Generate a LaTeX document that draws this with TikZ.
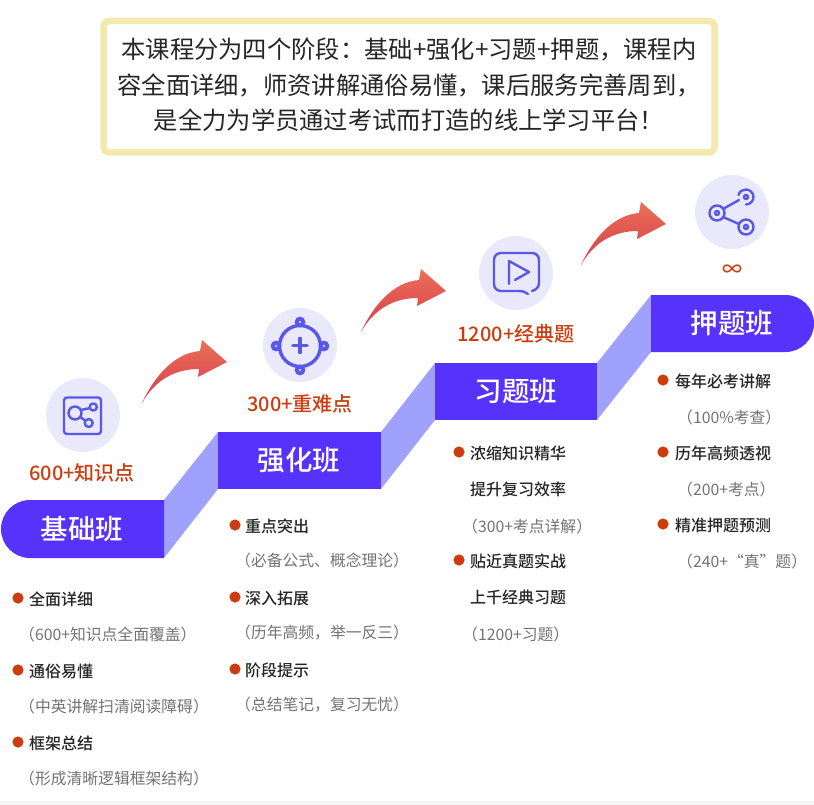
\documentclass[tikz,border=0pt]{standalone}
\usepackage{fontspec}
\setmainfont{Noto Sans CJK SC}
\newfontfamily\medfont{Noto Sans CJK SC Medium}
\definecolor{barblue}{HTML}{5533FB}
\definecolor{foldblue}{HTML}{A0A0FD}
\definecolor{iconblue}{HTML}{5A58E6}
\definecolor{discblue}{HTML}{E9E9FB}
\definecolor{numred}{HTML}{CB3C0E}
\definecolor{noteframe}{HTML}{F3E8AE}
\definecolor{curvestart}{HTML}{EA7058}
\definecolor{curveend}{HTML}{D83A4C}
\tikzset{
  x=1pt,
  y=-1pt,
}
\tikzstyle{every node}=[inner sep=0pt]
\tikzstyle{note}=[font=\fontsize{24.3}{24.3}\selectfont,text=black!85,text height=21.4pt,text depth=2.9pt]
\tikzstyle{bar}=[fill=barblue]
\tikzstyle{fold}=[fill=foldblue]
\tikzstyle{bartext}=[font=\medfont\fontsize{27.5}{28}\selectfont,text=white,text height=24.2pt,text depth=3.3pt]
\tikzstyle{count}=[font=\medfont\fontsize{20}{20}\selectfont,text=numred,text height=17.6pt,text depth=2.4pt]
\tikzstyle{disc}=[fill=discblue]
\tikzstyle{icon}=[draw=iconblue,line width=2.4pt,line cap=round,line join=round]
\tikzstyle{curve}=[left color=curvestart,right color=curveend,shading angle=0]
\tikzstyle{dot}=[fill=numred]
\tikzstyle{head}=[anchor=west,font=\medfont\fontsize{16}{16}\selectfont,text=black!85,text height=14pt,text depth=2pt]
\tikzstyle{sub}=[anchor=west,font=\fontsize{15.8}{16}\selectfont,text=black!55,text height=14pt,text depth=2pt]
\begin{document}
\begin{tikzpicture}
    \useasboundingbox (0,0) rectangle (814,805);
    \fill[black!4] (0,801) rectangle (814,805);
    \draw[draw=noteframe,fill=white,line width=6.5pt,rounded corners=6pt] (103.5,21) rectangle (714.5,152.5);
    \node[note] (line1) at (409,49) {本课程分为四个阶段：基础+强化+习题+押题，课程内};
    \node[note] (line2) at (409,85) {容全面详细，师资讲解通俗易懂，课后服务完善周到，};
    \node[note] (line3) at (409,120) {是全力为学员通过考试而打造的线上学习平台！};

    \fill[fold] (164,500)--(218,432)--(218,489)--(164,558)--cycle;
    \fill[fold] (381,432)--(435,363)--(435,420)--(381,489)--cycle;
    \fill[fold] (597,363)--(651,295)--(651,352)--(597,420)--cycle;
    \fill[bar] (164,500) [rounded corners=29pt] --(1,500)--(1,558) [sharp corners] --(164,558)--cycle;
    \fill[bar] (218,432) rectangle (381,489);
    \fill[bar] (435,363) rectangle (597,420);
    \fill[bar] (651,295) [rounded corners=28.5pt] --(814,295)--(814,352) [sharp corners] --(651,352)--cycle;
    \node[bartext] (base) at (82,529) {基础班};
    \node[bartext] (intensive) at (299,460) {强化班};
    \node[bartext] (drill) at (516,391) {习题班};
    \node[bartext] (final) at (732,323) {押题班};

    \foreach \dx/\dy in {0/0,219/-71,439/-138}
      \shade[curve,shift={(\dx,\dy)}] (142,403) .. controls (155,375) and (175,353) .. (200,351)
        --(202,340)--(227,362)--(198,377)--(199,369) .. controls (175,369) and (155,380) .. (142,403);

    \foreach \x/\y in {83/415,300/345,516/273,732/212}
      \fill[disc] (\x,\y) circle (37);

    \node[count] (num1) at (82,473) {600+知识点};
    \node[count] (num2) at (300,404) {300+重难点};
    \node[count] (num3) at (516,334) {1200+经典题};
    \node[count] (num4) at (732,269) {∞};

    \draw[icon,rounded corners=3pt] (64,397.5) rectangle (101,434);
    \draw[icon] (75,413) circle (6.5) (93.3,407) circle (3.6) (88.7,423) circle (4);
    \draw[icon] (81,410)--(90,408) (80.5,417)--(85,420.5);

    \draw[icon,line width=3.4pt] (300,346) circle (20.5);
    \foreach \x/\y in {300/322,324/346,300/370,276/346}{
      \fill[iconblue] (\x,\y) circle (5.4);
      \fill[discblue] (\x,\y) circle (1.1);
    }
    \draw[icon,line width=3.6pt] (293,345.5)--(307,345.5) (300,338.5)--(300,352.5);

    \draw[icon] (528,294) .. controls (525,292) and (523,291) .. (519,291)--(501,291)
      .. controls (497,291) and (494,288) .. (494,284)--(494,260)
      .. controls (494,256) and (497,253) .. (501,253)--(532,253)
      .. controls (536,253) and (539,256) .. (539,260)--(539,283)
      .. controls (539,287) and (536,290) .. (532,291);
    \draw[icon] (509,284)--(509,261)--(529,272)--(515,280);

    \draw[icon] (723,209)--(739,200) (723,217)--(739,224);
    \draw[icon] (717,213) circle (7.5) (717,213) circle (2) (746,227) circle (7.5) (746,227) circle (2) (746,197) circle (2);
    \draw[icon] (738.5,195) .. controls (739.5,191) and (743,189.5) .. (746,189.5)
      .. controls (750,189.5) and (753.5,193) .. (753.5,197)
      .. controls (753.5,201) and (750,204.5) .. (746,204.5);

    \foreach \x/\y/\t [count=\n] in {29/599/全面详细,29/671/通俗易懂,29/743/框架总结,
      245/526/重点突出,245/598/深入拓展,245/670/阶段提示,
      470/453/浓缩知识精华,470/489/提升复习效率,470/561/贴近真题实战,470/597/上千经典习题,
      675/381/每年必考讲解,675/453/历年高频透视,675/525/精准押题预测}
      \node[head] (head\n) at (\x,\y) {\t};

    \foreach \x/\y/\t [count=\n] in {19/634/（600+知识点全面覆盖）,19/706/（中英讲解扫清阅读障碍）,19/778/（形成清晰逻辑框架结构）,
      235/560/（必备公式、概念理论）,235/632/（历年高频，举一反三）,235/704/（总结笔记，复习无忧）,
      462/526/（300+考点详解）,462/634/（1200+习题）,
      677/417/（100\%考查）,677/489/（200+考点）,677/561/（240+“真”题）}
      \node[sub] (sub\n) at (\x,\y) {\t};

    \foreach \x/\y in {18/598,18/670,18/742,235/525,235/597,235/669,459/452,459/560,663/380,663/452,663/524}
      \fill[dot] (\x,\y) circle (5.6);
  \end{tikzpicture}
\end{document}
